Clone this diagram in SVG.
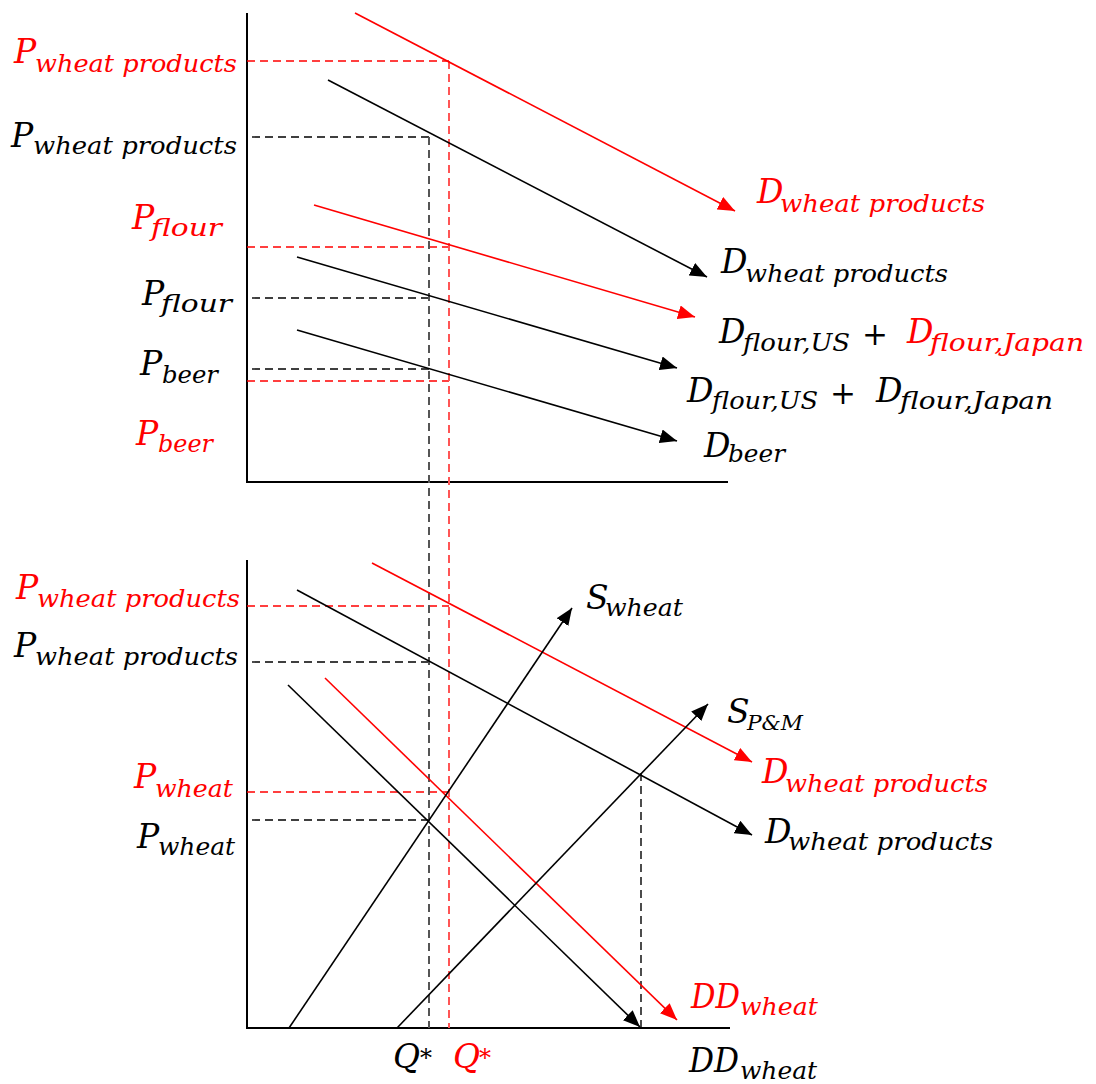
<svg xmlns="http://www.w3.org/2000/svg" width="1096" height="1084" viewBox="0 0 1096 1084">
<style>
.m{font-family:"DejaVu Serif","Liberation Serif",serif;font-style:italic;font-size:33px}
.s{font-family:"DejaVu Serif","Liberation Serif",serif;font-style:italic;font-size:25px}
.pl{font-family:"DejaVu Serif","Liberation Serif",serif;font-size:31px}
.st{font-family:"DejaVu Serif","Liberation Serif",serif;font-size:24px}
.r{fill:#f00}
.k{fill:#000}
.ax{stroke:#000;stroke-width:2;fill:none}
.ck{stroke:#000;stroke-width:1.6;fill:none}
.cr{stroke:#f00;stroke-width:1.6;fill:none}
.dk{stroke:#000;stroke-width:1.4;stroke-dasharray:8 5;fill:none}
.dr{stroke:#f00;stroke-width:1.4;stroke-dasharray:8 5;fill:none}
.vk{stroke:#555;stroke-width:2;stroke-dasharray:8 5;fill:none}
.vr{stroke:#f55;stroke-width:2;stroke-dasharray:8 5;fill:none}
</style>
<defs>
<marker id="ak" markerUnits="userSpaceOnUse" markerWidth="18" markerHeight="14" viewBox="0 0 18 14" refX="17" refY="7" orient="auto"><path d="M0,0 L17,7 L0,14 z" fill="#000"/></marker>
<marker id="ar" markerUnits="userSpaceOnUse" markerWidth="18" markerHeight="14" viewBox="0 0 18 14" refX="17" refY="7" orient="auto"><path d="M0,0 L17,7 L0,14 z" fill="#f00"/></marker>
</defs>
<rect width="1096" height="1084" fill="#fff"/>
<g id="axes">
<path class="ax" d="M247,13 V482 H728"/>
<path class="ax" d="M247,560 V1028 H730"/>
</g>
<g id="guides">
<path class="dr" d="M247,61 H449"/>
<path class="dk" d="M252,137 H429"/>
<path class="dr" d="M247,247 H449"/>
<path class="dk" d="M252,298 H429"/>
<path class="dk" d="M252,369 H429"/>
<path class="dr" d="M247,381 H449"/>
<path class="dr" d="M247,606 H449"/>
<path class="dk" d="M252,662 H429"/>
<path class="dr" d="M247,792 H449"/>
<path class="dk" d="M252,820 H429"/>
<path class="vk" d="M429,137 V1028"/>
<path class="vr" d="M449,61 V1028"/>
<path class="dk" d="M641,773 V1028"/>
</g>
<g id="connectors">
<line class="cr" x1="355" y1="13" x2="735" y2="211" marker-end="url(#ar)"/>
<line class="ck" x1="328" y1="80" x2="707" y2="277" marker-end="url(#ak)"/>
<line class="cr" x1="314" y1="205" x2="695" y2="317" marker-end="url(#ar)"/>
<line class="ck" x1="297" y1="257" x2="677" y2="368" marker-end="url(#ak)"/>
<line class="ck" x1="297" y1="330" x2="677" y2="441" marker-end="url(#ak)"/>
<line class="cr" x1="372" y1="563" x2="752" y2="762" marker-end="url(#ar)"/>
<line class="ck" x1="297" y1="590" x2="752" y2="835" marker-end="url(#ak)"/>
<line class="ck" x1="288" y1="685" x2="640" y2="1027" marker-end="url(#ak)"/>
<line class="cr" x1="325" y1="678" x2="677" y2="1020" marker-end="url(#ar)"/>
<line class="ck" x1="289" y1="1028" x2="572" y2="608" marker-end="url(#ak)"/>
<line class="ck" x1="397" y1="1028" x2="708" y2="704" marker-end="url(#ak)"/>
</g>
<g id="label-p-wp-red-top"><text class="m r" x="14" y="63">P</text><text class="s r" x="35" y="72" textLength="202" lengthAdjust="spacingAndGlyphs">wheat products</text></g>
<g id="label-p-wp-black-top"><text class="m k" x="11" y="147">P</text><text class="s k" x="33" y="154" textLength="204" lengthAdjust="spacingAndGlyphs">wheat products</text></g>
<g id="label-p-flour-red"><text class="m r" x="132" y="229">P</text><text class="s r" x="151" y="236" textLength="71" lengthAdjust="spacingAndGlyphs">flour</text></g>
<g id="label-p-flour-black"><text class="m k" x="142" y="305">P</text><text class="s k" x="161" y="312" textLength="71" lengthAdjust="spacingAndGlyphs">flour</text></g>
<g id="label-p-beer-black"><text class="m k" x="140" y="375">P</text><text class="s k" x="162" y="383" textLength="56" lengthAdjust="spacingAndGlyphs">beer</text></g>
<g id="label-p-beer-red"><text class="m r" x="136" y="445">P</text><text class="s r" x="158" y="452" textLength="55" lengthAdjust="spacingAndGlyphs">beer</text></g>
<g id="label-d-wp-red-top"><text class="m r" x="757" y="203">D</text><text class="s r" x="780" y="212" textLength="205" lengthAdjust="spacingAndGlyphs">wheat products</text></g>
<g id="label-d-wp-black-top"><text class="m k" x="721" y="273">D</text><text class="s k" x="745" y="282" textLength="203" lengthAdjust="spacingAndGlyphs">wheat products</text></g>
<g id="label-d-flour-red"><text class="m k" x="719" y="343">D</text><text class="s k" x="743" y="351" textLength="107" lengthAdjust="spacingAndGlyphs">flour,US</text><text class="pl k" x="862" y="345">+</text><text class="m r" x="907" y="343">D</text><text class="s r" x="930" y="351" textLength="154" lengthAdjust="spacingAndGlyphs">flour,Japan</text></g>
<g id="label-d-flour-black"><text class="m k" x="687" y="402">D</text><text class="s k" x="712" y="409" textLength="106" lengthAdjust="spacingAndGlyphs">flour,US</text><text class="pl k" x="830" y="404">+</text><text class="m k" x="876" y="402">D</text><text class="s k" x="900" y="409" textLength="153" lengthAdjust="spacingAndGlyphs">flour,Japan</text></g>
<g id="label-d-beer"><text class="m k" x="704" y="457">D</text><text class="s k" x="728" y="462" textLength="57" lengthAdjust="spacingAndGlyphs">beer</text></g>
<g id="label-p-wp-red-bot"><text class="m r" x="16" y="599">P</text><text class="s r" x="37" y="607" textLength="203" lengthAdjust="spacingAndGlyphs">wheat products</text></g>
<g id="label-p-wp-black-bot"><text class="m k" x="14" y="657">P</text><text class="s k" x="35" y="665" textLength="203" lengthAdjust="spacingAndGlyphs">wheat products</text></g>
<g id="label-p-wheat-red"><text class="m r" x="134" y="788">P</text><text class="s r" x="155" y="797" textLength="78" lengthAdjust="spacingAndGlyphs">wheat</text></g>
<g id="label-p-wheat-black"><text class="m k" x="137" y="848">P</text><text class="s k" x="158" y="855" textLength="77" lengthAdjust="spacingAndGlyphs">wheat</text></g>
<g id="label-s-wheat"><text class="m k" x="586" y="609">S</text><text class="s k" x="605" y="616" textLength="78" lengthAdjust="spacingAndGlyphs">wheat</text></g>
<g id="label-s-pm"><text class="m k" x="727" y="723">S</text><text class="s k" x="747" y="730" style="font-size:21px" textLength="56" lengthAdjust="spacingAndGlyphs">P&amp;M</text></g>
<g id="label-d-wp-red-bot"><text class="m r" x="762" y="783">D</text><text class="s r" x="785" y="792" textLength="203" lengthAdjust="spacingAndGlyphs">wheat products</text></g>
<g id="label-d-wp-black-bot"><text class="m k" x="765" y="843">D</text><text class="s k" x="788" y="850" textLength="205" lengthAdjust="spacingAndGlyphs">wheat products</text></g>
<g id="label-q-black"><text class="m k" x="393" y="1068">Q</text><text class="st k" x="420" y="1066">*</text></g>
<g id="label-q-red"><text class="m r" x="453" y="1068">Q</text><text class="st r" x="479" y="1066">*</text></g>
<g id="label-dd-red"><text class="m r" x="691" y="1008" textLength="49" lengthAdjust="spacingAndGlyphs">DD</text><text class="s r" x="740" y="1015" textLength="78" lengthAdjust="spacingAndGlyphs">wheat</text></g>
<g id="label-dd-black"><text class="m k" x="689" y="1072" textLength="50" lengthAdjust="spacingAndGlyphs">DD</text><text class="s k" x="740" y="1079" textLength="77" lengthAdjust="spacingAndGlyphs">wheat</text></g>
</svg>
